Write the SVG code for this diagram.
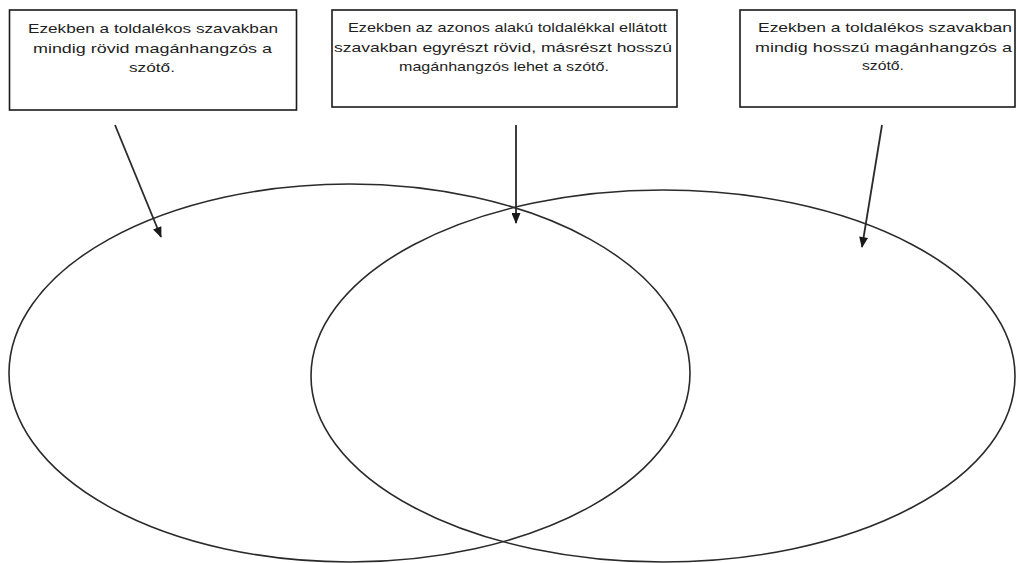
<svg xmlns="http://www.w3.org/2000/svg" width="1016" height="563" viewBox="0 0 1016 563">
<style>
.box{fill:#fff;stroke:#1a1a1a;stroke-width:1.6}
.t{font-family:"Liberation Sans",Arial,sans-serif;font-size:13.5px;fill:#1e1e1e}
.ell{fill:none;stroke:#2a2a2a;stroke-width:1.6}
.arr{stroke:#2a2a2a;stroke-width:1.8;fill:none;marker-end:url(#ah)}
</style>
<defs>
<marker id="ah" viewBox="0 0 12 10" refX="11" refY="5" markerWidth="12" markerHeight="9" markerUnits="userSpaceOnUse" orient="auto">
<path d="M0,0 L12,5 L0,10 Z" fill="#1a1a1a"/>
</marker>
</defs>
<rect width="1016" height="563" fill="#fff"/>
<g id="ellipses">
<ellipse id="left-set" class="ell" cx="349.5" cy="373" rx="340.5" ry="189"/>
<ellipse id="right-set" class="ell" cx="663" cy="376" rx="352" ry="186"/>
</g>
<g id="box1">
<rect class="box" x="9.5" y="10" width="287" height="100"/>
<text class="t" x="28" y="33" textLength="250" lengthAdjust="spacingAndGlyphs">Ezekben a toldalékos szavakban</text>
<text class="t" x="33" y="52.5" textLength="239" lengthAdjust="spacingAndGlyphs">mindig rövid magánhangzós a</text>
<text class="t" x="129" y="72" textLength="46" lengthAdjust="spacingAndGlyphs">szótő.</text>
</g>
<g id="box2">
<rect class="box" x="332" y="10" width="345" height="97"/>
<text class="t" x="348" y="32" textLength="319" lengthAdjust="spacingAndGlyphs">Ezekben az azonos alakú toldalékkal ellátott</text>
<text class="t" x="334" y="51.5" textLength="338" lengthAdjust="spacingAndGlyphs">szavakban egyrészt rövid, másrészt hosszú</text>
<text class="t" x="399" y="71" textLength="210" lengthAdjust="spacingAndGlyphs">magánhangzós lehet a szótő.</text>
</g>
<g id="box3">
<rect class="box" x="740" y="10" width="275" height="97"/>
<text class="t" x="758" y="32" textLength="254" lengthAdjust="spacingAndGlyphs">Ezekben a toldalékos szavakban</text>
<text class="t" x="755" y="51.5" textLength="257" lengthAdjust="spacingAndGlyphs">mindig hosszú magánhangzós a</text>
<text class="t" x="862" y="70" textLength="42" lengthAdjust="spacingAndGlyphs">szótő.</text>
</g>
<g id="connectors">
<line class="arr" x1="115" y1="125" x2="161" y2="237"/>
<line class="arr" x1="516" y1="125" x2="516" y2="223"/>
<line class="arr" x1="882" y1="125" x2="862" y2="247"/>
</g>
</svg>
